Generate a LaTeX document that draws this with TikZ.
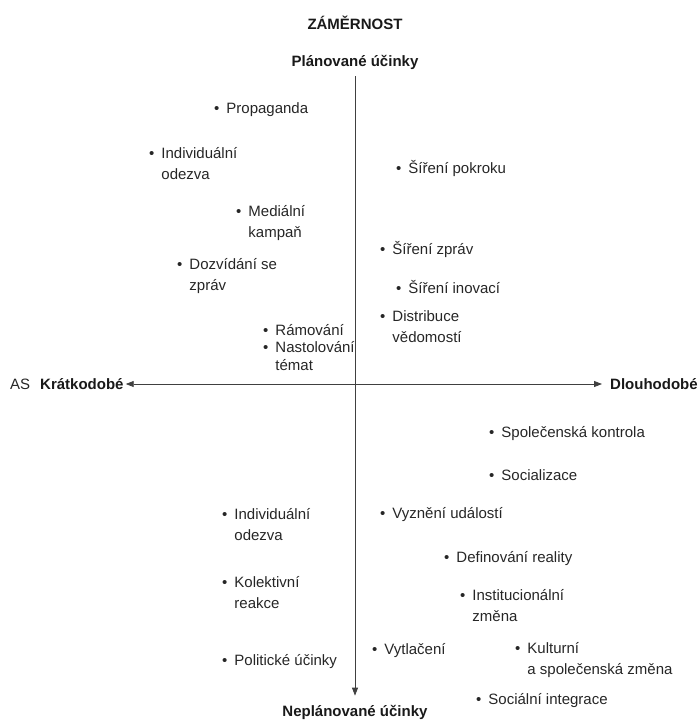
\documentclass[tikz,border=0pt]{standalone}
\usepackage{fontspec}
\setmainfont{Liberation Sans}
\usetikzlibrary{arrows.meta}
\newcommand{\itm}[1]{\textbullet\hspace{7pt}\begin{tabular}[t]{@{}l@{}}#1\end{tabular}}

\begin{document}
\begin{tikzpicture}[x=1pt,y=-1pt,
  >={Triangle[length=8pt,width=6pt]},
  item/.style={anchor=base west,inner sep=0pt,text=black!85,
    font=\fontsize{15}{21}\selectfont},
  pole/.style={inner sep=0pt,text=black!90,font=\fontsize{15}{18}\selectfont\bfseries},
  axis/.style={line width=0.8pt,draw=black!75,->}]
\useasboundingbox (0,0) rectangle (698,724);
% poles of the two axes
\node[pole] (zamer) at (355,23) {ZÁMĚRNOST};
\node[pole] (plan) at (355,62) {Plánované účinky};
\node[pole] (neplan) at (355,712) {Neplánované účinky};
\node[pole,anchor=west] (kratko) at (40,384) {Krátkodobé};
\node[pole,anchor=west] (dlouho) at (610,384) {Dlouhodobé};
\node[item,anchor=west,font=\fontsize{15}{18}\selectfont] (as) at (10,384) {AS};
\draw[axis,shorten <=7pt,shorten >=9pt] (plan) -- (neplan);
\draw[axis,<->,shorten <=2pt,shorten >=8pt] (kratko) -- (dlouho);
% planned, short term
\node[item] (propaganda) at (214,113) {\itm{Propaganda}};
\node[item] (odezvaA) at (149,158) {\itm{Individuální\\odezva}};
\node[item] (kampan) at (236,216) {\itm{Mediální\\kampaň}};
\node[item] (dozvidani) at (177,269) {\itm{Dozvídání se\\zpráv}};
\node[item] (ramovani) at (263,335) {\itm{Rámování}};
\node[item] (agenda) at (263,352) {\itm{Nastolování\\[-3pt]témat}};
% planned, long term
\node[item] (pokrok) at (396,173) {\itm{Šíření pokroku}};
\node[item] (zpravy) at (380,254) {\itm{Šíření zpráv}};
\node[item] (inovace) at (396,293) {\itm{Šíření inovací}};
\node[item] (vedomosti) at (380,321) {\itm{Distribuce\\vědomostí}};
% unplanned, long term
\node[item] (kontrola) at (489,437) {\itm{Společenská kontrola}};
\node[item] (socializace) at (489,480) {\itm{Socializace}};
\node[item] (vyzneni) at (380,518) {\itm{Vyznění událostí}};
\node[item] (realita) at (444,562) {\itm{Definování reality}};
\node[item] (instituce) at (460,600) {\itm{Institucionální\\změna}};
\node[item] (vytlaceni) at (372,654) {\itm{Vytlačení}};
\node[item] (kultura) at (515,653) {\itm{Kulturní\\a společenská změna}};
\node[item] (integrace) at (476,704) {\itm{Sociální integrace}};
% unplanned, short term
\node[item] (odezvaB) at (222,519) {\itm{Individuální\\odezva}};
\node[item] (kolektiv) at (222,587) {\itm{Kolektivní\\reakce}};
\node[item] (politika) at (222,665) {\itm{Politické účinky}};
\end{tikzpicture}
\end{document}
